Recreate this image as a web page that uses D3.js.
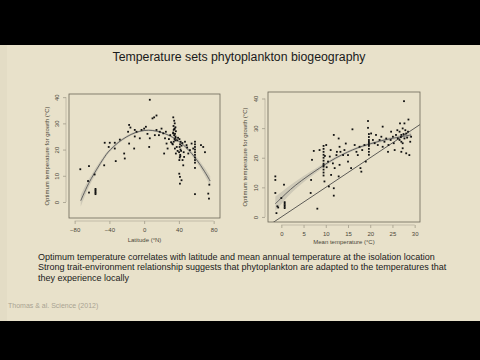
<!DOCTYPE html>
<html><head><meta charset="utf-8">
<script src="https://cdn.jsdelivr.net/npm/d3@7"></script>
<style>html,body{margin:0;padding:0;background:#000;}svg{display:block;}</style>
</head><body>
<script>
// ---------- Data ----------
const titleText = "Temperature sets phytoplankton biogeography";
const bodyLines = [
  "Optimum temperature correlates with latitude and mean annual temperature at the isolation location",
  "Strong trait-environment relationship suggests that phytoplankton are adapted to the temperatures that",
  "they experience locally"
];
const citation = "Thomas & al. Science (2012)";

// Left panel: latitude vs optimum temperature
const latitude = [-73.5,-63.5,-64.6,-57,-63.5,-56,-56,-56,-56,-56,-46,-45.4,-40.8,-39.6,-33.8,-33.8,-32.7,-28,-23,-22.3,
  -17.3,-17.3,-15.8,-18.5,-11.5,-10.8,-10.8,-8.8,-5,-3,0,2,3.8,5.8,6.5,6.5,9.6,11.5,14.2,12.3,14.2,17,18,20,22,24,23,25,25.8,27,
  33,34,35,36,34.5,35.5,33.5,36.5,34,35,36,33.8,35.2,34.6,35.8,36.2,33.3,34.8,
  33.5,32.3,35.4,36.5,
  40.5,41,41.5,40.2,41.8,40.8,41.3,42,40.6,41.6,42.5,43,44,
  40.4,41.2,41.2,43,45,44.2,46,48.8,50.8,52.7,54.6,56.5,47,49.5,45.5,
  58.5,58.5,58.5,58.5,58.5,58.5,58.5,58.5,58.5,58.5,58.5,
  65.4,68,70,73.8,74.6,75,30,28.5,38,37.5,38.5,39,31];
const optTempLat = [12.5,13.7,8,10.5,3.6,3,3.5,4,4.5,5,14,22.6,21,22.6,22.6,20.4,15.6,23.8,18.5,16.6,
  22.3,29.4,28.4,26.8,20.4,25,27.5,26.8,24.3,27.5,28,28.7,26,21,24.3,39,31.9,32.3,33,25.5,27.5,25.5,26.8,28,26.2,24.3,18.5,26.8,22.3,20.4,
  22,23,24,25,25.5,26,26.5,27,27.5,28,28.5,29,30,31,23.5,24.5,26.2,27.8,
  32.3,22.3,20.4,18.5,
  16,17,18,19,20,21,22,23,24,17.5,19.5,21.5,22.5,
  10.8,9.6,7,8.3,14,16,17.2,21.7,18.5,19.8,22.3,20.4,23,20.8,19,
  13,15,16,17,18,19,20,21,22,23,3,
  21.7,21,19,3.2,1.3,6.6,25.5,24,23.5,21,19.5,24.5,22.8];
const latCurveX = [-73,-65,-60,-50,-43,-40,-30,-20,-10,0,10,20,30,40,50,60,70,76];
const latCurveY = [0.5,6.5,9.5,15,18.5,19.6,22.8,25,26.6,27.4,27.4,26.6,25.3,23.3,20.4,16.5,11.5,8];
const latBandHalf = [2.2,1.6,1.3,0.9,0.7,0.6,0.5,0.45,0.4,0.4,0.4,0.4,0.4,0.45,0.6,0.9,1.4,1.8];
const latTicks = [-80,-40,0,40,80];
const optTicks = [0,10,20,30,40];

// Right panel: mean temperature vs optimum temperature
const meanTemp = [27.6,-1.35,-1.35,-1.35,-0.9,-0.7,-1.1,0.6,0.75,0.75,0.75,0.75,0.75,0,6.6,6.7,6.9,7.3,8.1,8.6,
  9.5,9.5,9.5,9.5,9.5,9.5,9.5,9.5,9.5,9.5,9.5,9.5,
  9.7,10.1,10.5,10.7,10.9,11.1,11.2,11.6,11.8,11.8,11.8,12,12.4,12.5,12.9,12.9,13.1,13.1,13.3,13.9,14.2,15,15,15.7,16,16.5,16.9,17.2,17.6,17.8,18,18.2,18.7,19,
  19.7,19.7,19.7,19.7,19.7,19.7,19.7,19.7,19.7,19.7,
  19.5,19.5,20.2,20.6,21,21.3,21.7,22.1,22.5,22.8,22.8,23.2,23.6,24,24.1,24.6,24.7,25.1,25.3,25.5,25.8,26.1,26.2,
  26.6,27,27.3,27.7,27,28.1,27.3,26.6,27.9,26.9,27.5,28.3,
  26.7,27,27.3,27.7,28.1,28.5,28.8,28.6,29,29.2,10.2,9.8,14.5];
const optTempMean = [39.1,13.7,12.5,8.1,3.6,3.2,1.3,10.9,3,3.5,4,4.5,5,6.4,8.1,12.5,19.3,22.3,2.8,22.6,
  14,15,16,17,17.5,18,19,20,21,22,23,24,
  12,24.3,18.7,10.3,20.4,22.6,14.2,18.1,27.7,9.7,7.2,16.5,20.9,22,26.5,13.7,23.7,17.6,22,20.9,22.6,20.9,18.7,16.5,29.6,24.3,22,20.9,23.7,16.5,15.3,22.6,24.3,18.7,
  21,22,23,24,24.5,25,25.5,26,27,28,
  32.4,30.1,28.2,26,24.9,27.7,24.3,26,27.1,30.5,23.7,25.4,26.5,22,24.3,26,28.8,27.1,24.9,22.6,27.7,29.3,26.5,
  28.8,27.7,29.9,26.5,25.4,28.2,24.9,26,29.3,27,28,26.8,
  31.6,22,23.2,31.6,21.5,28.8,20.9,32.9,25.4,27.1,16.8,20.6,24.8];
const mtCurveX = [-1.35,0,2,4.5,7.5,9.7,12,15,17,19.5,22,24.7,27,29.2];
const mtCurveY = [4.5,6.4,9.3,12.3,15.4,17.6,19.8,22,23.3,24.5,25.6,26.5,27.1,27.7];
const mtBandHalf = [2.4,2.0,1.5,1.1,0.8,0.6,0.5,0.45,0.45,0.45,0.5,0.55,0.7,0.9];
const oneToOne = [-3,31.2];
const mtTicks = [0,5,10,15,20,25,30];

// ---------- Drawing ----------
const W = 480, H = 360;
const svg = d3.select("body").append("svg").attr("width", W).attr("height", H);
const BG = "#e8e1ca";
svg.append("rect").attr("x",0).attr("y",45).attr("width",W).attr("height",276).attr("fill",BG);
svg.append("rect").attr("x",0).attr("y",45).attr("width",7).attr("height",276).attr("fill","#e3dcc5");

const font = "'Liberation Sans', Arial, Helvetica, sans-serif";
svg.append("text").attr("x",239).attr("y",61).attr("text-anchor","middle")
  .attr("font-family",font).attr("font-size",12.3).attr("fill","#1a1a1a").text(titleText);

svg.selectAll("text.body").data(bodyLines).enter().append("text").attr("class","body")
  .attr("x",38).attr("y",(d,i)=>259.5 + i*10.6)
  .attr("font-family",font).attr("font-size",9.0).attr("fill","#1a1a1a").text(d=>d);

svg.append("text").attr("x",8).attr("y",308).attr("font-family",font).attr("font-size",7)
  .attr("fill","#a9a392").text(citation);

function panel(cfg){
  const g = svg.append("g");
  const x = d3.scaleLinear().domain(cfg.xdom).range([cfg.x0,cfg.x1]);
  const y = d3.scaleLinear().domain(cfg.ydom).range([cfg.y1,cfg.y0]);
  const clipId = "clip"+cfg.id;
  svg.append("clipPath").attr("id",clipId).append("rect")
    .attr("x",cfg.x0).attr("y",cfg.y0).attr("width",cfg.x1-cfg.x0).attr("height",cfg.y1-cfg.y0);
  const inner = g.append("g").attr("clip-path",`url(#${clipId})`);
  const band = cfg.cx.map((v,i)=>({x:v, lo:cfg.cy[i]-cfg.ch[i], hi:cfg.cy[i]+cfg.ch[i], m:cfg.cy[i]}));
  inner.append("path").datum(band)
    .attr("d", d3.area().curve(d3.curveBasis).x(d=>x(d.x)).y0(d=>y(d.lo)).y1(d=>y(d.hi)))
    .attr("fill","#c9c4b4").attr("opacity",0.85);
  if(cfg.abline){
    inner.append("line").attr("x1",x(cfg.abline[0])).attr("y1",y(cfg.abline[0]))
      .attr("x2",x(cfg.abline[1])).attr("y2",y(cfg.abline[1]))
      .attr("stroke","#3a3a3a").attr("stroke-width",0.8);
  }
  inner.append("path").datum(band)
    .attr("d", d3.line().curve(d3.curveBasis).x(d=>x(d.x)).y(d=>y(d.m)))
    .attr("fill","none").attr("stroke","#555").attr("stroke-width",0.9);
  inner.selectAll("rect.pt").data(cfg.px.map((v,i)=>[v,cfg.py[i]])).enter().append("rect")
    .attr("x",d=>x(d[0])-0.9).attr("y",d=>y(d[1])-0.9).attr("width",1.8).attr("height",1.8)
    .attr("fill","#111");
  g.append("rect").attr("x",cfg.x0).attr("y",cfg.y0).attr("width",cfg.x1-cfg.x0).attr("height",cfg.y1-cfg.y0)
    .attr("fill","none").attr("stroke","#6b6658").attr("stroke-width",0.8);
  const xa = g.append("g").attr("transform",`translate(0,${cfg.y1+3})`)
    .call(d3.axisBottom(x).tickValues(cfg.xt).tickSize(3).tickPadding(4).tickFormat(d3.format("d")));
  const ya = g.append("g").attr("transform",`translate(${cfg.x0-3},0)`)
    .call(d3.axisLeft(y).tickValues(cfg.yt).tickSize(3).tickPadding(3).tickFormat(d3.format("d")));
  [xa,ya].forEach(a=>{
    a.select(".domain").remove();
    a.selectAll(".tick line").attr("stroke","#8a8474").attr("stroke-width",0.6);
    a.selectAll("text").attr("font-family",font).attr("font-size",6).attr("fill","#4a4638");
  });
  // R-style axis lines spanning first to last tick
  xa.append("line").attr("x1",x(cfg.xt[0])).attr("x2",x(cfg.xt[cfg.xt.length-1]))
    .attr("stroke","#a8a290").attr("stroke-width",0.6);
  ya.append("line").attr("y1",y(cfg.yt[0])).attr("y2",y(cfg.yt[cfg.yt.length-1]))
    .attr("stroke","#a8a290").attr("stroke-width",0.6);
  ya.selectAll(".tick text").attr("transform","rotate(-90)").attr("text-anchor","middle")
    .attr("x",0).attr("dy",0).attr("y",-7);
  g.append("text").attr("x",(cfg.x0+cfg.x1)/2).attr("y",cfg.xlabY).attr("text-anchor","middle")
    .attr("font-family",font).attr("font-size",6).attr("fill","#4a4638").text(cfg.xlab);
  g.append("text").attr("transform",`translate(${cfg.ylabX},${(cfg.y0+cfg.y1)/2}) rotate(-90)`)
    .attr("text-anchor","middle").attr("font-family",font).attr("font-size",6)
    .attr("fill","#4a4638").text(cfg.ylab);
}

panel({id:"L", x0:69, x1:220, y0:94, y1:218, xdom:[-86.5,87.3], ydom:[-6.1,41.2],
  px:latitude, py:optTempLat, cx:latCurveX, cy:latCurveY, ch:latBandHalf,
  xt:latTicks, yt:optTicks, xlab:"Latitude (°N)", ylab:"Optimum temperature for growth (°C)",
  xlabY:242, ylabX:49});
panel({id:"R", x0:268, x1:420, y0:92, y1:222, xdom:[-3,31.2], ydom:[-1.7,42.2],
  px:meanTemp, py:optTempMean, cx:mtCurveX, cy:mtCurveY, ch:mtBandHalf, abline:oneToOne,
  xt:mtTicks, yt:optTicks, xlab:"Mean temperature (°C)", ylab:"Optimum temperature for growth (°C)",
  xlabY:244, ylabX:247});
</script>
</body></html>
